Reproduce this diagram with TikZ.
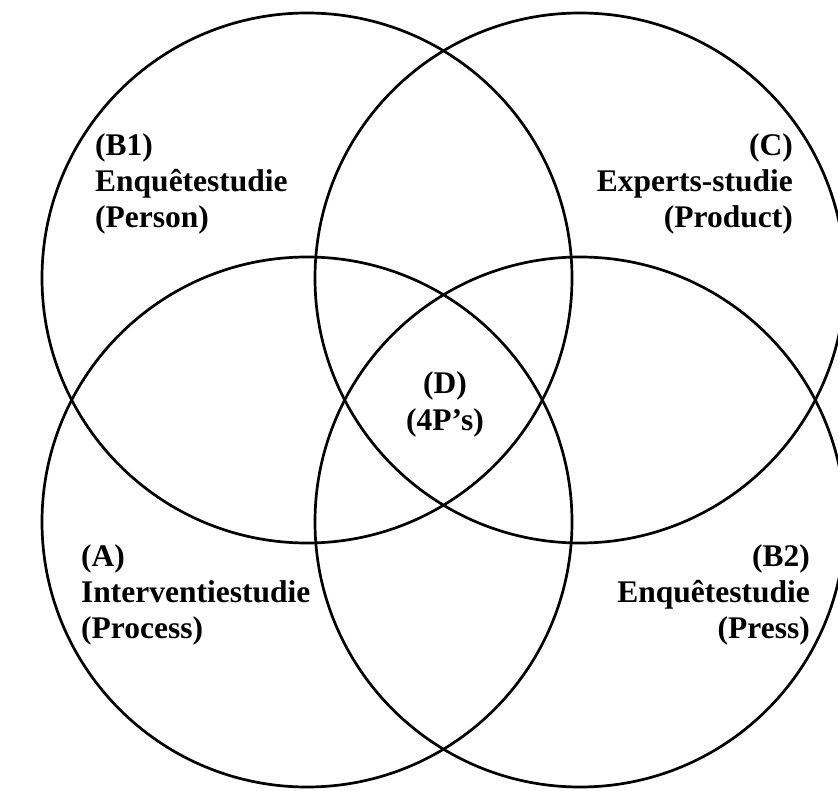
\documentclass[tikz,border=0pt]{standalone}
\usepackage{fontspec}
\setmainfont{Liberation Serif}
\begin{document}
\begin{tikzpicture}[x=1pt,y=-1pt,
  ring/.style={draw, circle, line width=2.7pt, minimum size=530pt, inner sep=0pt},
  lbl/.style={inner sep=0pt, font=\bfseries\fontsize{31.5}{36}\selectfont}]
\clip (0,0) rectangle (838,791);
\fill[white] (0,0) rectangle (838,791);
\node[ring] (tl) at (307,278) {};
\node[ring] (tr) at (580,278) {};
\node[ring] (bl) at (307,522) {};
\node[ring] (br) at (580,522) {};
% B1
\node[lbl, anchor=base west] (b1a) at (95,156) {(B1)};
\node[lbl, anchor=base west] (b1b) at (95,192) {Enquêtestudie};
\node[lbl, anchor=base west] (b1c) at (95,228) {(Person)};
% C
\node[lbl, anchor=base east] (ca) at (793,156) {(C)};
\node[lbl, anchor=base east] (cb) at (793,192) {Experts-studie};
\node[lbl, anchor=base east] (cc) at (793,228) {(Product)};
% A
\node[lbl, anchor=base west] (aa) at (81,566) {(A)};
\node[lbl, anchor=base west] (ab) at (81,602) {Interventiestudie};
\node[lbl, anchor=base west] (ac) at (81,638) {(Process)};
% B2
\node[lbl, anchor=base east] (b2a) at (810,566) {(B2)};
\node[lbl, anchor=base east] (b2b) at (810,602) {Enquêtestudie};
\node[lbl, anchor=base east] (b2c) at (810,638) {(Press)};
% D
\node[lbl, anchor=base] (da) at (445,394) {(D)};
\node[lbl, anchor=base] (db) at (445,430) {(4P’s)};
\end{tikzpicture}
\end{document}
